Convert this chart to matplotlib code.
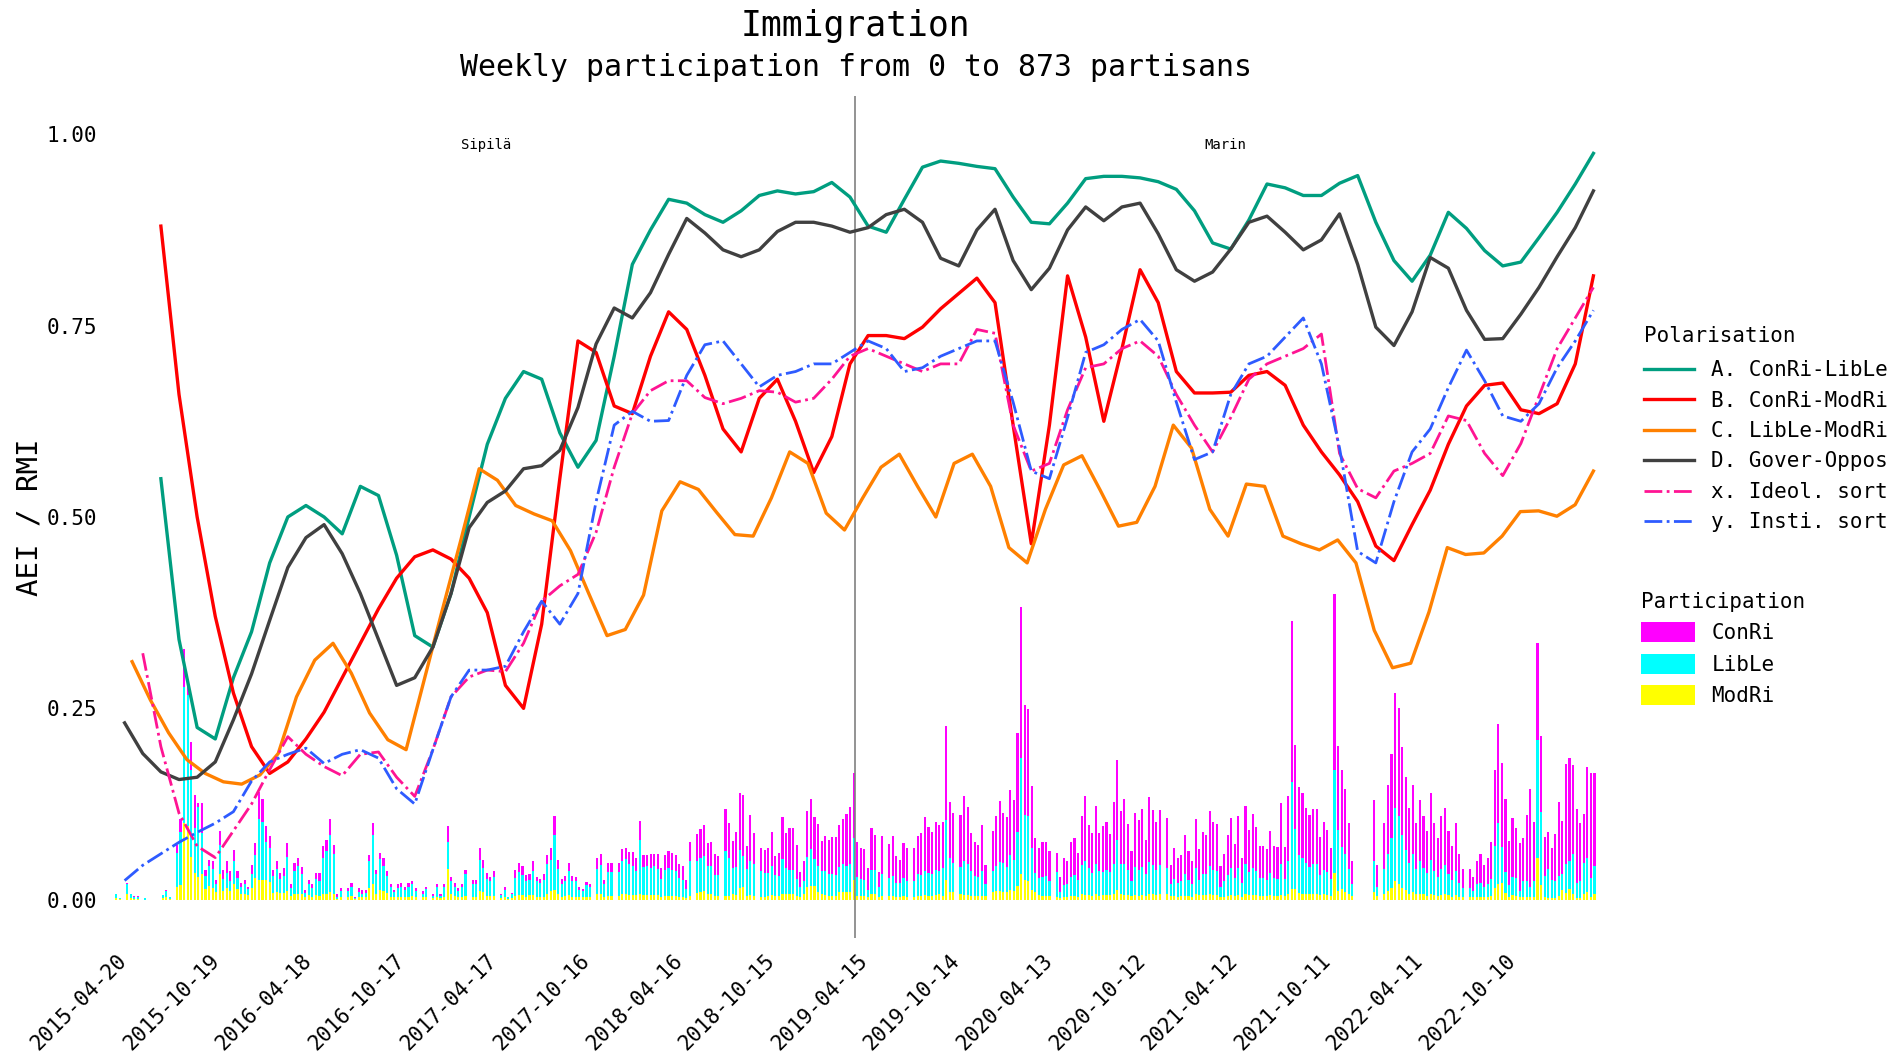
import numpy as np
import matplotlib
matplotlib.use("Agg")
import matplotlib.pyplot as plt
from matplotlib.patches import Patch

plt.rcParams['font.family'] = ['DejaVu Sans Mono', 'DejaVu Sans']

# ---------------- data ----------------
tick_labels = ["2015-04-20", "2015-10-19", "2016-04-18", "2016-10-17", "2017-04-17",
               "2017-10-16", "2018-04-16", "2018-10-15", "2019-04-15", "2019-10-14",
               "2020-04-13", "2020-10-12", "2021-04-12", "2021-10-11", "2022-04-11",
               "2022-10-10"]
tick_step = 26          # weeks between labelled ticks
n_weeks = 416
government_change = 207.5   # between weeks (2019 election)
governments = ["Sipilä", "Marin"]

nan = np.nan
# polarisation lines (sampled on a ~5-week grid, week index)
line_weeks = np.linspace(2.3, 414.7, 82)
orange_weeks = np.linspace(4.4, 414.7, 81)

A_conri_lible = [nan, nan,
    0.55, 0.34, 0.225, 0.21, 0.29, 0.35, 0.44, 0.50, 0.515, 0.50,
    0.478, 0.54, 0.528, 0.45, 0.345, 0.33, 0.40, 0.50, 0.595, 0.655,
    0.69, 0.68, 0.61, 0.565, 0.60, 0.71, 0.83, 0.875, 0.915, 0.91,
    0.895, 0.885, 0.90, 0.92, 0.926, 0.922, 0.925, 0.937, 0.918, 0.88,
    0.872, 0.915, 0.957, 0.965, 0.962, 0.958, 0.955, 0.918, 0.885, 0.883,
    0.91, 0.942, 0.945, 0.945, 0.943, 0.938, 0.928, 0.90, 0.858, 0.85,
    0.888, 0.935, 0.93, 0.92, 0.92, 0.936, 0.946, 0.885, 0.835, 0.808,
    0.842, 0.898, 0.877, 0.848, 0.828, 0.833, 0.865, 0.898, 0.935, 0.975]

B_conri_modri = [nan, nan,
    0.88, 0.66, 0.50, 0.37, 0.27, 0.20, 0.165, 0.18, 0.21, 0.245,
    0.29, 0.335, 0.38, 0.42, 0.448, 0.457, 0.445, 0.42, 0.375, 0.28,
    0.25, 0.36, 0.55, 0.73, 0.715, 0.645, 0.635, 0.71, 0.768, 0.745,
    0.685, 0.615, 0.585, 0.655, 0.68, 0.625, 0.558, 0.605, 0.70, 0.737,
    0.737, 0.733, 0.748, 0.772, 0.792, 0.812, 0.78, 0.62, 0.465, 0.62,
    0.815, 0.735, 0.625, 0.72, 0.823, 0.78, 0.69, 0.662, 0.662, 0.663,
    0.685, 0.69, 0.672, 0.62, 0.585, 0.555, 0.52, 0.462, 0.443, 0.49,
    0.535, 0.595, 0.645, 0.672, 0.675, 0.64, 0.635, 0.648, 0.70, 0.815]

C_lible_modri = [
    0.311, 0.261, 0.218, 0.183, 0.165, 0.154, 0.151, 0.163, 0.191, 0.265,
    0.313, 0.335, 0.296, 0.244, 0.209, 0.196, 0.288, 0.38, 0.47, 0.563,
    0.548, 0.515, 0.504, 0.495, 0.456, 0.40, 0.345, 0.353, 0.398, 0.508,
    0.546, 0.536, 0.506, 0.477, 0.475, 0.525, 0.585, 0.57, 0.505, 0.483,
    0.525, 0.565, 0.582, 0.54, 0.50, 0.57, 0.582, 0.54, 0.46, 0.44,
    0.51, 0.568, 0.58, 0.535, 0.488, 0.493, 0.54, 0.62, 0.59, 0.51,
    0.475, 0.543, 0.54, 0.475, 0.465, 0.457, 0.47, 0.44, 0.352, 0.303,
    0.309, 0.376, 0.46, 0.451, 0.453, 0.475, 0.507, 0.508, 0.501, 0.516,
    0.56]

D_gover_oppos = [
    0.231, 0.191, 0.167, 0.157, 0.16, 0.18, 0.235, 0.295, 0.365, 0.434,
    0.473, 0.49, 0.452, 0.40, 0.34, 0.28, 0.29, 0.33, 0.40, 0.486,
    0.519, 0.534, 0.563, 0.567, 0.587, 0.643, 0.726, 0.773, 0.76, 0.793,
    0.843, 0.89, 0.871, 0.849, 0.84, 0.849, 0.873, 0.885, 0.885, 0.88,
    0.872, 0.878, 0.895, 0.902, 0.885, 0.838, 0.828, 0.875, 0.902, 0.835,
    0.797, 0.825, 0.875, 0.905, 0.887, 0.905, 0.91, 0.87, 0.823, 0.808,
    0.82, 0.85, 0.885, 0.893, 0.872, 0.849, 0.862, 0.896, 0.83, 0.748,
    0.724, 0.768, 0.839, 0.825, 0.77, 0.732, 0.733, 0.765, 0.80, 0.84,
    0.878, 0.926]

x_ideol_sort = [
    nan, 0.322, 0.20, 0.113, 0.07, 0.055, 0.09, 0.125, 0.17, 0.213,
    0.19, 0.174, 0.162, 0.19, 0.193, 0.16, 0.135, 0.196, 0.265, 0.291,
    0.30, 0.298, 0.335, 0.39, 0.41, 0.425, 0.48, 0.565, 0.635, 0.665,
    0.678, 0.678, 0.656, 0.648, 0.655, 0.665, 0.663, 0.65, 0.655, 0.68,
    0.71, 0.72, 0.71, 0.70, 0.69, 0.70, 0.70, 0.745, 0.74, 0.62,
    0.56, 0.57, 0.64, 0.695, 0.70, 0.72, 0.73, 0.71, 0.66, 0.62,
    0.585, 0.63, 0.68, 0.70, 0.71, 0.72, 0.739, 0.583, 0.537, 0.525,
    0.56, 0.57, 0.583, 0.632, 0.626, 0.583, 0.554, 0.596, 0.658, 0.72,
    0.76, 0.80]

y_insti_sort = [
    0.025, 0.045, 0.06, 0.075, 0.088, 0.10, 0.115, 0.155, 0.18, 0.19,
    0.198, 0.178, 0.19, 0.196, 0.185, 0.145, 0.125, 0.196, 0.265, 0.30,
    0.30, 0.305, 0.35, 0.39, 0.36, 0.40, 0.52, 0.62, 0.638, 0.625,
    0.626, 0.685, 0.725, 0.73, 0.70, 0.67, 0.685, 0.69, 0.70, 0.70,
    0.715, 0.73, 0.72, 0.69, 0.695, 0.71, 0.72, 0.73, 0.73, 0.65,
    0.56, 0.55, 0.63, 0.715, 0.725, 0.745, 0.758, 0.73, 0.65, 0.575,
    0.585, 0.66, 0.70, 0.71, 0.735, 0.76, 0.70, 0.59, 0.455, 0.44,
    0.52, 0.585, 0.615, 0.669, 0.718, 0.678, 0.632, 0.625, 0.648, 0.695,
    0.73, 0.77]

# weekly participation bars (stack heights, thousandths of the axis)
conri = [
    0,0,0,2,1,1,1,0,0,0, 0,0,0,0,2,0,0,11,17,50, 10,37,43,5,39,8,8,10,5,18,
    12,15,12,15,8,6,6,3,12,15, 35,30,20,15,8,10,8,10,18,5, 10,10,10,4,5,5,8,10,15,15,
    20,12,3,3,0,3,5,2,5,5, 4,8,15,6,8,10,6,4,3,5, 5,4,5,5,3,0,3,3,0,2,
    4,2,4,20,6,5,3,4,6,0, 5,5,15,10,8,6,8,0,2,4, 1,2,10,12,12,8,8,12,6,5,
    8,12,15,25,12,6,6,10,6,6, 4,3,4,4,0,15,15,6,12,12, 0,12,16,15,16,18,16,25,16,15,
    18,16,20,14,20,22,22,22,18,18, 12,25,0,35,38,40,30,32,28,25, 0,55,45,35,45,75,80,30,60,40,
    0,30,30,32,45,25,30,55,45,55, 55,45,20,25,60,65,55,55,40,45, 45,48,50,55,60,68,75,85,45,40,
    40,28,55,45,20,50,0,45,52,35, 30,45,42,0,42,50,55,70,60,55, 62,60,60,123,72,65,0,68,85,75,
    50,45,42,60,25,0,52,65,80,65, 65,85,78,130,197,144,140,80,45,40, 45,45,38,0,25,20,35,30,45,48,
    35,65,85,55,52,75,50,60,62,50, 80,105,70,85,60,38,70,65,75,45, 85,72,62,72,0,65,25,40,33,35,
    52,38,30,65,40,55,52,72,62,62, 28,36,52,65,45,68,33,75,55,70, 58,42,42,40,55,42,42,80,42,85,
    210,110,88,85,72,68,72,72,50,62, 55,40,230,110,100,85,60,30,0,0, 0,0,0,80,28,0,60,90,110,150,
    140,115,95,72,90,60,80,68,55,88, 62,50,70,75,56,44,62,38,25,0, 25,18,30,38,28,35,48,100,130,
    110,95,58,77,66,63,56,86,128,77,126, 99,51,48,41,61,96,70,130,135,116, 96,75,64,118,136,122]
lible = [
    6,1,0,12,5,3,3,0,2,0, 0,0,0,4,7,3,0,45,70,178, 172,113,59,91,54,17,26,25,11,38,
    15,20,13,30,15,8,12,8,18,30, 80,75,50,45,22,30,18,22,45,10, 30,36,26,6,15,11,21,20,48,55,
    75,52,3,8,0,9,12,1,7,5, 6,36,65,25,40,32,22,12,7,11, 13,9,13,15,9,0,5,11,0,3,
    12,3,12,36,16,12,9,12,28,0, 17,17,40,32,22,19,25,0,4,10, 2,5,24,30,26,20,20,32,20,18,
    22,38,40,72,32,17,20,32,21,20, 10,8,15,13,0,33,37,17,31,31, 0,31,43,45,40,38,32,70,37,38,
    36,38,34,23,34,36,34,32,25,22, 12,45,0,42,44,45,36,36,27,27, 0,58,50,35,37,50,40,35,45,42,
    0,33,31,30,38,27,26,45,35,32, 32,22,13,18,40,48,35,34,30,32, 28,29,27,33,36,34,36,55,25,22,
    21,10,32,32,13,28,0,23,26,18, 18,24,21,0,21,28,27,32,30,28, 33,30,36,78,45,38,0,35,45,40,
    32,26,25,32,15,0,28,32,38,38, 33,45,40,70,152,85,85,55,25,22, 25,26,20,0,33,8,16,17,25,27,
    22,38,45,36,30,40,32,30,33,30, 40,65,38,40,33,20,37,34,37,28, 42,38,33,38,0,35,15,22,18,19,
    28,21,17,33,20,27,27,37,33,31, 12,20,27,36,23,36,18,40,30,36, 31,23,23,21,29,23,22,40,22,43,
    140,78,50,47,40,36,38,38,26,32, 30,22,135,80,55,50,32,15,0,0, 0,0,0,40,12,0,32,48,65,95,
    90,70,52,40,50,33,42,35,30,45, 32,25,34,38,28,22,32,18,12,0, 12,9,16,18,14,16,22,55,80,
    47,27,15,24,23,7,20,22,14,21,155, 96,28,38,24,23,26,20,38,36,53, 20,23,41,45,25,36]
modri = [
    2,1,0,8,2,1,1,0,0,0, 0,0,0,2,4,1,0,16,19,100, 96,56,35,30,33,14,18,15,10,34,
    12,15,12,20,14,8,8,6,15,29, 26,26,26,23,9,10,9,9,11,5, 8,8,7,3,6,4,6,5,7,8,
    10,8,1,4,0,3,5,1,3,3, 3,15,20,8,13,12,9,4,3,4, 4,4,4,5,3,0,3,3,0,2,
    4,2,4,40,8,5,3,4,5,0, 4,4,12,10,5,5,5,0,2,3, 1,2,5,6,6,4,6,6,4,4,
    4,8,12,13,8,4,5,6,4,4, 3,3,4,3,0,7,8,3,5,5, 0,5,7,8,6,6,6,8,6,6,
    6,6,6,4,5,5,5,5,4,4, 2,5,0,9,10,12,8,8,5,5, 0,5,5,7,6,15,17,5,6,5,
    0,4,4,5,6,5,5,8,7,7, 7,5,3,7,16,18,18,10,7,6, 5,5,5,10,10,10,10,26,5,5,
    5,3,7,7,3,5,0,5,5,4, 4,5,4,0,4,5,5,6,5,5, 6,8,5,26,10,10,0,8,6,6,
    5,5,5,5,5,0,10,12,11,10, 10,13,12,18,33,26,24,13,10,6, 5,5,5,0,3,2,3,4,5,5,
    4,7,6,6,5,7,5,6,6,6, 7,13,8,6,6,5,6,5,6,5, 7,7,6,7,0,7,5,5,4,5,
    5,5,4,8,6,6,6,7,6,6, 4,4,5,6,5,6,4,7,6,6, 6,5,5,5,6,5,5,6,5,7,
    14,14,9,8,8,7,8,8,6,7, 6,5,35,11,14,10,8,5,0,0, 0,0,0,10,5,0,8,12,15,25,
    20,15,13,8,10,7,8,7,5,7, 6,5,6,7,6,4,6,4,3,0, 3,3,4,4,3,4,5,15,20,
    22,9,4,6,5,4,4,3,3,3,54, 19,3,2,2,2,5,13,9,14,7, 2,2,7,10,4,8]

assert len(conri) == len(lible) == len(modri) == n_weeks

# ---------------- figure ----------------
fig = plt.figure(figsize=(18.97, 10.57), dpi=100)
ax = fig.add_axes([0.0548, 0.1126, 0.7923, 0.7966])

weeks = np.arange(n_weeks)
m = np.array(modri) / 1000
l = np.array(lible) / 1000
c = np.array(conri) / 1000
bw = 0.6
ax.bar(weeks, m, width=bw, color='#FFFF00', linewidth=0, label='ModRi')
ax.bar(weeks, l, bottom=m, width=bw, color='#00FFFF', linewidth=0, label='LibLe')
ax.bar(weeks, c, bottom=m + l, width=bw, color='#FF00FF', linewidth=0, label='ConRi')

lw = 2.4
hA, = ax.plot(line_weeks, A_conri_lible, color='#009E80', lw=lw, label='A. ConRi-LibLe')
hB, = ax.plot(line_weeks, B_conri_modri, color='#FF0000', lw=lw, label='B. ConRi-ModRi')
hC, = ax.plot(orange_weeks, C_lible_modri, color='#FF8000', lw=lw, label='C. LibLe-ModRi')
hD, = ax.plot(line_weeks, D_gover_oppos, color='#404040', lw=lw, label='D. Gover-Oppos')
hx, = ax.plot(line_weeks, x_ideol_sort, color='#FF1493', lw=2.0, ls='-.', label='x. Ideol. sort')
hy, = ax.plot(line_weeks, y_insti_sort, color='#2E5BFF', lw=2.0, ls='-.', label='y. Insti. sort')

ax.axvline(government_change, color='#808080', lw=1.2, zorder=1)
ax.text(government_change / 2, 0.986, governments[0], ha='center', va='center', fontsize=10)
ax.text((government_change + n_weeks - 1) / 2, 0.986, governments[1], ha='center', va='center', fontsize=10)

ax.set_xlim(-3.5, 418.5)
ax.set_ylim(-0.05, 1.05)
for s in ax.spines.values():
    s.set_visible(False)
ax.set_yticks([0, 0.25, 0.5, 0.75, 1.0])
ax.set_yticklabels(['0.00', '0.25', '0.50', '0.75', '1.00'], fontsize=15)
ax.set_xticks(np.arange(len(tick_labels)) * tick_step)
ax.set_xticklabels(tick_labels, fontsize=15, rotation=45, ha='right', rotation_mode='anchor')
ax.tick_params(axis='both', length=0)
ax.tick_params(axis='x', pad=9)
ax.tick_params(axis='y', pad=5)
ax.set_ylabel('AEI / RMI', fontsize=21)
ax.yaxis.set_label_coords(-0.040, 0.5)

fig.text(0.451, 1 - 26 / 1057, 'Immigration', ha='center', va='center', fontsize=25)
fig.text(0.451, 1 - 68 / 1057, 'Weekly participation from 0 to 873 partisans',
         ha='center', va='center', fontsize=21.5)

leg1 = fig.legend(handles=[hA, hB, hC, hD, hx, hy], title='Polarisation', loc='upper left',
                  bbox_to_anchor=(0.857, 0.709), frameon=False, fontsize=15, title_fontsize=15,
                  alignment='left', handlelength=2.4, labelspacing=0.5)
leg1._legend_box.sep = 10
patches = [Patch(facecolor='#FF00FF', label='ConRi'),
           Patch(facecolor='#00FFFF', label='LibLe'),
           Patch(facecolor='#FFFF00', label='ModRi')]
leg2 = fig.legend(handles=patches, title='Participation', loc='upper left',
                  bbox_to_anchor=(0.855, 0.458), frameon=False, fontsize=15, title_fontsize=15,
                  alignment='left', handlelength=2.6, handleheight=1.1, labelspacing=0.5)

fig.savefig('out.png', dpi=100)
